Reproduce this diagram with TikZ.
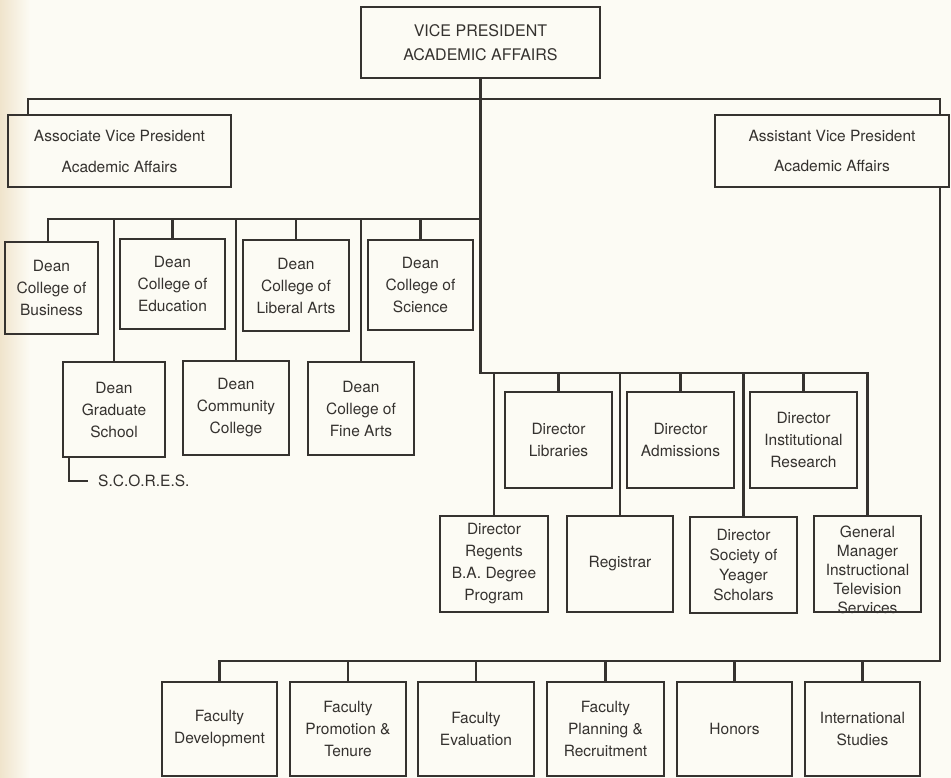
\documentclass[tikz,border=0pt]{standalone}
\usepackage{fontspec}
\setmainfont{TeX Gyre Heros}
\definecolor{ink}{HTML}{35322F}
\definecolor{paper}{HTML}{FCFBF4}
\definecolor{tan}{HTML}{F0E4CC}
\tikzset{
  box/.style={draw=ink, line width=2.3pt, inner sep=0pt, align=center, text=ink,
              font=\fontsize{15.5}{22}\selectfont},
  wire/.style={draw=ink, line width=2.1pt},
  lbl/.style={text=ink, inner sep=0pt, align=center, font=\fontsize{15.5}{22}\selectfont},
}
\begin{document}
\begin{tikzpicture}[x=1pt,y=-1pt]
\useasboundingbox (0,0) rectangle (951,778);
\fill[paper] (0,0) rectangle (951,778);
\shade[left color=tan, right color=paper] (0,0) rectangle (30,778);

% top level
\node[box, minimum width=239pt, minimum height=71pt, font=\fontsize{16}{24}\selectfont] (vp) at (480.5,42.5) {VICE PRESIDENT\\ACADEMIC AFFAIRS};
\node[box, minimum width=223pt, minimum height=72pt, font=\fontsize{15.5}{31}\selectfont] (assoc) at (119.5,151) {Associate Vice President\\Academic Affairs};
\node[box, minimum width=234pt, minimum height=72pt, font=\fontsize{15.5}{30}\selectfont] (asst) at (832,151) {Assistant Vice President\\Academic Affairs};

% deans
\node[box, minimum width=93pt, minimum height=92pt] (bus) at (51.5,288) {Dean\\College of\\Business};
\node[box, minimum width=105pt, minimum height=90pt] (edu) at (172.5,284) {Dean\\College of\\Education};
\node[box, minimum width=106pt, minimum height=91pt] (lib) at (296,285.5) {Dean\\College of\\Liberal Arts};
\node[box, minimum width=105pt, minimum height=90pt] (sci) at (420.5,285) {Dean\\College of\\Science};
\node[box, minimum width=102pt, minimum height=95pt] (grad) at (114,409.5) {Dean\\Graduate\\School};
\node[box, minimum width=106pt, minimum height=94pt] (comm) at (236,408) {Dean\\Community\\College};
\node[box, minimum width=106pt, minimum height=93pt] (fine) at (361,408.5) {Dean\\College of\\Fine Arts};
\node[lbl, anchor=west] (scores) at (98,481) {S.C.O.R.E.S.};

% directors
\node[box, minimum width=107pt, minimum height=96pt] (libr) at (558.5,440) {Director\\Libraries};
\node[box, minimum width=107pt, minimum height=96pt] (adm) at (680.5,440) {Director\\Admissions};
\node[box, minimum width=107pt, minimum height=96pt] (ir) at (803.5,440) {Director\\Institutional\\Research};
\node[box, minimum width=108pt, minimum height=96pt] (reg) at (494,564) {Director\\Regents\\B.A. Degree\\Program};
\node[box, minimum width=106pt, minimum height=96pt] (regis) at (620,564) {Registrar};
\node[box, minimum width=107pt, minimum height=96pt, font=\fontsize{15.5}{20}\selectfont] (yea) at (743.5,565) {Director\\Society of\\Yeager\\Scholars};
\node[box, minimum width=107pt, minimum height=96pt] (gm) at (867.5,564) {};
\node[lbl, font=\fontsize{15.5}{19}\selectfont] (gmtext) at ([yshift=-6pt]gm.center) {General\\Manager\\Instructional\\Television\\Services};

% faculty row
\node[box, minimum width=115pt, minimum height=94pt] (dev) at (219.5,729) {Faculty\\Development};
\node[box, minimum width=116pt, minimum height=94pt] (prom) at (348,729) {Faculty\\Promotion \&\\Tenure};
\node[box, minimum width=116pt, minimum height=94pt] (eval) at (476,729) {Faculty\\Evaluation};
\node[box, minimum width=117pt, minimum height=94pt] (plan) at (605.5,729) {Faculty\\Planning \&\\Recruitment};
\node[box, minimum width=115pt, minimum height=94pt] (hon) at (734.5,729) {Honors};
\node[box, minimum width=115pt, minimum height=94pt] (intl) at (862.5,729) {International\\Studies};

% connectors
\coordinate (tbL) at (28,99);
\coordinate (tbR) at (940,99);
\coordinate (deanbus) at (0,219);
\coordinate (dirbus) at (0,373);
\coordinate (facbus) at (0,661);

\draw[wire] (assoc.north -| tbL) -- (tbL) -- (tbR) -- (asst.north -| tbR);
\draw[wire] (vp.south) -- (vp.south |- dirbus) -- (gm.north |- dirbus) -- (gm.north);
\draw[wire] ([xshift=-3.5pt]bus.north) -- ([xshift=-3.5pt]bus.north |- deanbus) -- (vp.south |- deanbus);
\foreach \n in {edu,lib,sci,grad,comm,fine}
  \draw[wire] (\n.north) -- (\n.north |- deanbus);
\foreach \n in {libr,adm,ir,reg,regis,yea}
  \draw[wire] (\n.north) -- (\n.north |- dirbus);
\draw[wire] (asst.south -| tbR) -- (tbR |- facbus) -- (dev.north |- facbus) -- (dev.north);
\foreach \n in {prom,eval,plan,hon,intl}
  \draw[wire] (\n.north) -- (\n.north |- facbus);
\draw[wire] ([xshift=7pt]grad.south west) |- ([xshift=-10pt]scores.west);
\end{tikzpicture}
\end{document}
